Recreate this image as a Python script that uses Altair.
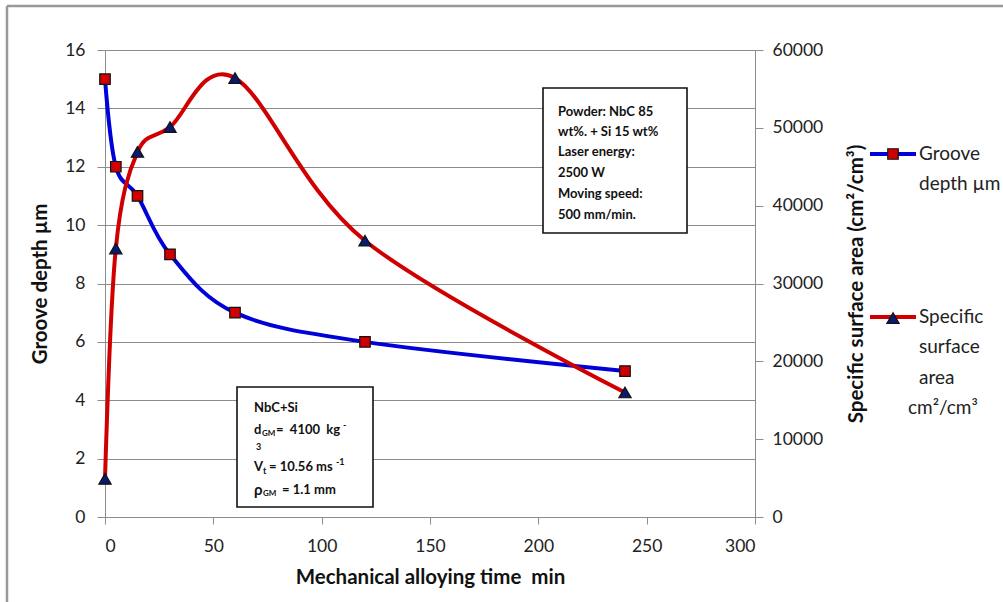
import altair as alt
import pandas as pd

# ---- data ----
time_groove = [0, 5, 15, 30, 60, 120, 240]
groove_depth = [15, 12, 11, 9, 7, 6, 5]
time_ssa = [0, 5, 15, 30, 60, 120, 240]
ssa = [4900, 34500, 46900, 50100, 56400, 35500, 16000]

x_ticks = [0, 50, 100, 150, 200, 250, 300]
left_ticks = [0, 2, 4, 6, 8, 10, 12, 14, 16]
right_ticks = [0, 10000, 20000, 30000, 40000, 50000, 60000]

df_g = pd.DataFrame({"t": time_groove, "g": groove_depth})
df_s = pd.DataFrame({"t": time_ssa, "s": ssa})

FONT = "Lato"
W, H = 650, 467
OX, OY = 105, 50  # plot origin in page pixels
NB = "\u00a0"
TS = 20.5  # axis title size
LS = 17.5  # tick label size
LG = 19    # legend text size

BLUE = "#0000d8"
RED = "#d00000"
NAVY = "#0a1a6e"
GRID = "#8c8c8c"

xenc = alt.X("t:Q", scale=alt.Scale(domain=[0, 300], nice=False),
             axis=alt.Axis(values=x_ticks, title=f"Mechanical alloying time{NB}{NB}min",
                           grid=False, domainColor=GRID, tickColor=GRID, tickSize=7,
                           labelFontSize=LS, labelColor="#222", labelPadding=13,
                           titleFontSize=TS, titleFontWeight="bold", titleColor="#111",
                           titlePadding=13, labelFont=FONT, titleFont=FONT))

yl_scale = alt.Scale(domain=[0, 16], nice=False)
yr_scale = alt.Scale(domain=[0, 60000], nice=False)

blue_line = alt.Chart(df_g).mark_line(color=BLUE, strokeWidth=4, interpolate="cardinal").encode(
    x=xenc,
    y=alt.Y("g:Q", scale=yl_scale,
            axis=alt.Axis(values=left_ticks, title="Groove depth µm", grid=True,
                          gridColor=GRID, gridWidth=1.2, domainColor=GRID, tickColor=GRID,
                          tickSize=8, labelFontSize=LS, labelColor="#222", labelPadding=12,
                          titleFontSize=TS, titleFontWeight="bold", titleColor="#111",
                          titlePadding=14, labelFont=FONT, titleFont=FONT)),
)
squares = alt.Chart(df_g).mark_point(shape="square", filled=True, fill=RED, stroke="#111",
                                     strokeWidth=1.2, size=110, opacity=1).encode(
    x="t:Q", y=alt.Y("g:Q", scale=yl_scale))


def px(x, y, text, size=13, weight="bold", align="left", color="#111"):
    return alt.Chart(alt.Data(values=[{}])).mark_text(
        align=align, baseline="middle", font=FONT, fontSize=size, fontWeight=weight,
        color=color).encode(x=alt.value(x - OX), y=alt.value(y - OY), text=alt.value(text))


def box(x1, y1, x2, y2):
    return alt.Chart(alt.Data(values=[{}])).mark_rect(
        fill="white", stroke="#111", strokeWidth=1.6).encode(
        x=alt.value(x1 - OX), x2=alt.value(x2 - OX), y=alt.value(y1 - OY), y2=alt.value(y2 - OY))


def hrule(x1, x2, y, color, width):
    return alt.Chart(alt.Data(values=[{}])).mark_rule(color=color, strokeWidth=width).encode(
        x=alt.value(x1 - OX), x2=alt.value(x2 - OX), y=alt.value(y - OY))


def vrule(x, y1, y2, color, width):
    return alt.Chart(alt.Data(values=[{}])).mark_rule(color=color, strokeWidth=width).encode(
        x=alt.value(x - OX), y=alt.value(y1 - OY), y2=alt.value(y2 - OY))


def marker(x, y, shape, fill, size):
    return alt.Chart(alt.Data(values=[{}])).mark_point(
        shape=shape, filled=True, fill=fill, stroke="#111", strokeWidth=1.2, size=size,
        opacity=1).encode(x=alt.value(x - OX), y=alt.value(y - OY))


annotations = [
    # box 1
    box(543, 88, 687, 233),
    px(558, 112, "Powder: NbC 85"),
    px(558, 132, "wt%. + Si 15 wt%"),
    px(558, 152, "Laser energy:"),
    px(558, 173, "2500 W"),
    px(558, 194, "Moving speed:"),
    px(558, 215, "500 mm/min."),
    # box 2
    box(237, 387, 373, 507),
    px(254, 408, "NbC+Si"),
    px(254, 430, "d"),
    px(262, 434, "GM", size=8),
    px(276, 430, f"={NB}{NB}4100{NB}{NB}kg"),
    px(343, 425, "-", size=9),
    px(256, 447, "3", size=9),
    px(254, 467, "V"),
    px(263, 471, "t", size=9),
    px(269, 467, f"={NB}10.56{NB}ms"),
    px(336, 462, "-1", size=9),
    px(254, 490, "ρ", size=15),
    px(263, 494, "GM", size=8),
    px(282, 490, f"={NB}1.1{NB}mm"),
    # legend
    hrule(870, 916, 154, BLUE, 4),
    marker(893, 154, "square", RED, 110),
    px(919, 154, "Groove", size=LG, weight="normal", color="#222"),
    px(919, 184, "depth µm", size=LG, weight="normal", color="#222"),
    hrule(870, 916, 317, RED, 4),
    marker(893, 318, "triangle-up", NAVY, 150),
    px(919, 317, "Specific", size=LG, weight="normal", color="#222"),
    px(919, 347, "surface", size=LG, weight="normal", color="#222"),
    px(919, 378, "area", size=LG, weight="normal", color="#222"),
    px(908, 408, "cm²/cm³", size=LG, weight="normal", color="#222"),
    # outer chart border
    vrule(7, 6, 602, "#999", 2.5),
    hrule(7, 1003, 6, "#999", 2.5),
]

left = alt.layer(blue_line, squares)

red_line = alt.Chart(df_s).mark_line(color=RED, strokeWidth=4, interpolate="cardinal").encode(
    x="t:Q",
    y=alt.Y("s:Q", scale=yr_scale,
            axis=alt.Axis(values=right_ticks, orient="right", format="d",
                          title="Specific surface area (cm²/cm³)", grid=False,
                          domainColor=GRID, tickColor=GRID, tickSize=8, labelFontSize=LS,
                          labelColor="#222", labelPadding=9, titleFontSize=TS,
                          titleFontWeight="bold", titleColor="#111", titlePadding=44,
                          titleAngle=270, titleBaseline="bottom",
                          labelFont=FONT, titleFont=FONT)),
)
triangles = alt.Chart(df_s).mark_point(shape="triangle-up", filled=True, fill=NAVY, stroke="#111",
                                       strokeWidth=1.2, size=150, opacity=1).encode(
    x="t:Q", y=alt.Y("s:Q", scale=yr_scale))

right = alt.layer(red_line, triangles)

chart = alt.layer(left, right, *annotations).resolve_scale(y="independent").properties(
    width=W, height=H,
    autosize=alt.AutoSizeParams(type="none"),
    padding={"left": OX, "top": OY, "right": 1003 - OX - W, "bottom": 602 - OY - H},
    background="white",
).configure_view(strokeWidth=0)

chart.save("out.html", embed_options={"renderer": "svg", "actions": False})
